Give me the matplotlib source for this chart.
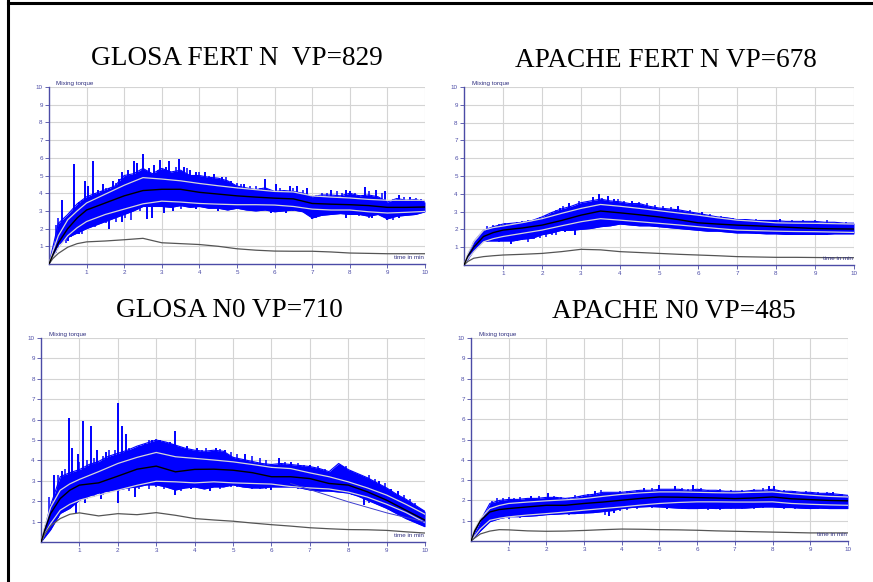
import numpy as np
import matplotlib
matplotlib.use("Agg")
import matplotlib.pyplot as plt
from matplotlib.lines import Line2D

# time grids (minutes)
T_ENV = np.arange(0, 10.01, 0.25)
T_LINE = [0, 0.1, 0.25, 0.5, 0.75, 1, 1.5, 2, 2.5, 3, 3.5, 4, 4.5, 5, 5.5,
          6, 6.5, 7, 7.5, 8, 8.5, 9, 9.5, 10]

TITLES = ["GLOSA FERT N  VP=829", "APACHE FERT N VP=678",
          "GLOSA N0 VP=710", "APACHE N0 VP=485"]

# --- GLOSA FERT N ---
gf_upper = [0, 2.3, 2.8, 3.4, 3.8, 4.0, 4.2, 4.4, 5.0, 5.1, 5.4, 5.1, 5.4, 5.2, 5.3, 5.0,
            5.0, 4.9, 4.85, 4.7, 4.4, 4.3, 4.2, 4.3, 4.1, 4.15, 4.1, 4.0, 3.8, 3.9, 3.9,
            3.85, 4.0, 3.85, 3.9, 3.8, 3.5, 3.7, 3.6, 3.65, 3.5]
gf_lower = [0, 1.1, 1.5, 1.75, 2.0, 2.2, 2.4, 2.6, 2.8, 3.0, 3.25, 3.25, 3.25, 3.2, 3.3, 3.2,
            3.25, 3.15, 3.15, 3.05, 3.15, 3.05, 3.0, 3.05, 2.95, 3.0, 3.05, 2.95, 2.6, 2.75,
            2.8, 2.85, 2.8, 2.8, 2.7, 2.8, 2.55, 2.7, 2.75, 2.8, 2.95]
gf_center = [0, 0.5, 1.2, 2.0, 2.6, 3.05, 3.45, 3.85, 4.15, 4.22, 4.22, 4.05, 3.95, 3.85,
             3.78, 3.72, 3.68, 3.42, 3.38, 3.35, 3.3, 3.2, 3.2, 3.22]
gf_band_hi = [0, 0.7, 1.6, 2.5, 3.0, 3.45, 3.95, 4.45, 4.88, 4.8, 4.7, 4.55, 4.42, 4.3,
              4.2, 4.1, 4.07, 3.85, 3.78, 3.73, 3.65, 3.6, 3.6, 3.6]
gf_band_lo = [0, 0.35, 0.9, 1.6, 2.05, 2.4, 2.8, 3.1, 3.4, 3.55, 3.5, 3.42, 3.38, 3.35,
              3.35, 3.33, 3.25, 3.1, 3.05, 3.05, 2.95, 2.88, 2.92, 2.97]
gf_base = [0, 0.3, 0.6, 0.95, 1.15, 1.25, 1.3, 1.37, 1.45, 1.2, 1.15, 1.1, 1.0, 0.86,
           0.78, 0.73, 0.72, 0.72, 0.68, 0.62, 0.6, 0.58, 0.58, 0.58]
gf_strokes = [(0.35, 1.5, 3.6), (0.5, 1.3, 2.7), (0.67, 2.0, 5.65), (0.8, 1.7, 3.5),
              (0.95, 2.2, 4.7), (1.05, 2.4, 4.4), (1.17, 2.5, 5.8), (1.3, 2.6, 4.2),
              (1.45, 2.6, 4.5), (1.6, 2.0, 4.3), (1.7, 3.0, 4.7), (1.85, 3.0, 4.8),
              (1.95, 2.4, 5.2), (2.1, 3.0, 5.3), (2.25, 3.2, 5.8), (2.35, 3.2, 5.7),
              (2.5, 3.4, 6.2), (2.6, 2.55, 4.4), (2.65, 3.4, 5.4), (2.75, 2.6, 4.6),
              (2.8, 3.4, 5.6), (2.95, 3.4, 5.9), (3.05, 2.9, 4.5), (3.1, 3.6, 5.5),
              (3.2, 3.6, 5.8), (3.3, 3.0, 4.8), (3.45, 3.6, 5.95), (3.6, 3.5, 5.5),
              (3.75, 3.5, 5.3), (3.9, 3.1, 5.2), (4.15, 3.4, 5.2), (4.4, 3.3, 5.1),
              (4.5, 3.0, 4.6), (4.6, 3.4, 4.9), (4.85, 3.3, 4.7), (5.2, 3.3, 4.5),
              (5.75, 3.5, 4.8), (5.9, 2.9, 4.0), (6.05, 3.4, 4.5), (6.3, 2.9, 4.0),
              (6.4, 3.4, 4.4), (6.6, 3.4, 4.4), (6.85, 3.3, 4.3), (7.0, 2.55, 3.6),
              (7.5, 3.2, 4.2), (7.9, 2.6, 4.2), (8.0, 3.2, 4.1), (8.4, 3.0, 4.35),
              (8.6, 2.6, 3.6), (8.7, 3.0, 4.2), (8.95, 3.0, 4.1), (9.0, 2.5, 3.4),
              (9.3, 2.6, 3.9), (9.6, 2.9, 3.8), (9.9, 2.9, 3.7)]
gf_fine = [(0.2, 0.6, 2.2), (0.25, 0.9, 2.6), (0.45, 1.2, 2.6), (0.58, 1.5, 2.6),
           (0.75, 1.7, 3.3), (0.88, 1.7, 3.6), (1.12, 2.1, 3.8), (1.22, 2.1, 4.0),
           (1.38, 2.3, 4.1), (1.52, 2.3, 4.3), (1.78, 2.4, 4.6), (2.03, 2.6, 4.9),
           (2.18, 2.5, 5.0), (2.42, 3.0, 5.0), (2.9, 3.2, 5.3), (3.38, 3.3, 5.5),
           (3.52, 3.1, 5.0), (3.68, 3.2, 5.4), (4.0, 3.3, 5.2), (4.25, 3.2, 5.0),
           (4.7, 3.1, 4.9), (5.0, 3.1, 4.6), (5.1, 3.2, 4.5), (5.35, 3.1, 4.4),
           (5.5, 3.2, 4.4), (5.6, 3.0, 4.3), (6.15, 3.0, 4.3), (6.5, 3.0, 4.3),
           (6.75, 3.0, 4.2), (7.1, 2.6, 3.9), (7.25, 2.7, 4.0), (7.4, 2.8, 4.0),
           (7.65, 2.8, 4.1), (7.8, 2.8, 4.0), (8.15, 2.8, 4.0), (8.25, 2.7, 3.9),
           (8.5, 2.6, 4.1), (8.85, 2.7, 4.0), (9.15, 2.5, 3.7), (9.45, 2.7, 3.8),
           (9.75, 2.8, 3.75)]

# --- APACHE FERT N ---
af_upper = [0, 1.3, 1.95, 2.15, 2.3, 2.35, 2.4, 2.5, 2.7, 2.95, 3.15, 3.3, 3.5, 3.6, 3.7,
            3.6, 3.55, 3.45, 3.45, 3.3, 3.2, 3.15, 3.1, 3.0, 2.9, 2.8, 2.7, 2.65, 2.55,
            2.55, 2.5, 2.5, 2.5, 2.45, 2.45, 2.45, 2.45, 2.4, 2.4, 2.35, 2.35]
af_lower = [0, 0.8, 1.35, 1.35, 1.35, 1.35, 1.45, 1.5, 1.7, 1.8, 1.95, 1.95, 2.0, 2.05,
            2.15, 2.2, 2.3, 2.25, 2.2, 2.2, 2.15, 2.1, 2.05, 2.0, 1.95, 1.9, 1.9, 1.85,
            1.8, 1.8, 1.78, 1.75, 1.75, 1.72, 1.72, 1.72, 1.72, 1.72, 1.75, 1.75, 1.75]
af_center = [0, 0.5, 1.0, 1.6, 1.82, 1.96, 2.08, 2.24, 2.5, 2.8, 3.03, 2.93, 2.82, 2.7,
             2.55, 2.37, 2.3, 2.24, 2.2, 2.15, 2.1, 2.05, 2.03, 2.02]
af_band_hi = [0, 0.65, 1.3, 1.96, 2.1, 2.19, 2.38, 2.6, 2.9, 3.18, 3.4, 3.3, 3.18, 3.05,
              2.92, 2.8, 2.65, 2.52, 2.45, 2.37, 2.35, 2.34, 2.32, 2.3]
af_band_lo = [0, 0.35, 0.75, 1.3, 1.48, 1.6, 1.78, 1.96, 2.2, 2.43, 2.6, 2.52, 2.43, 2.34,
              2.25, 2.15, 2.05, 1.96, 1.93, 1.9, 1.88, 1.87, 1.85, 1.83]
af_base = [0, 0.2, 0.38, 0.47, 0.52, 0.56, 0.6, 0.65, 0.75, 0.88, 0.85, 0.75, 0.7, 0.65,
           0.6, 0.56, 0.52, 0.47, 0.45, 0.43, 0.43, 0.42, 0.41, 0.41]
af_strokes = [(1.2, 1.2, 2.1), (2.45, 1.9, 3.2), (2.6, 1.85, 3.0), (2.7, 2.2, 3.5),
              (2.85, 1.7, 3.0), (3.2, 2.0, 3.4), (3.3, 2.4, 3.8), (3.45, 2.4, 4.0),
              (3.7, 2.5, 3.9), (3.85, 2.4, 3.7), (4.3, 2.5, 3.6), (5.5, 2.3, 3.3),
              (6.1, 2.1, 3.0), (8.1, 1.9, 2.6)]
af_fine = [(0.6, 1.3, 2.2), (0.75, 1.35, 2.25), (0.9, 1.3, 2.3), (1.05, 1.4, 2.35),
           (1.35, 1.35, 2.4), (1.5, 1.4, 2.45), (1.65, 1.3, 2.5), (1.8, 1.45, 2.5),
           (1.95, 1.5, 2.7), (2.1, 1.6, 2.8), (2.25, 1.7, 3.0), (2.35, 1.7, 3.1),
           (2.55, 1.9, 3.3), (2.95, 2.0, 3.6), (3.05, 2.1, 3.5), (3.55, 2.2, 3.75),
           (3.95, 2.3, 3.7), (4.1, 2.3, 3.6), (4.5, 2.2, 3.55), (4.7, 2.2, 3.5),
           (4.9, 2.15, 3.35), (5.1, 2.2, 3.3), (5.3, 2.1, 3.25), (5.8, 2.0, 3.1),
           (6.3, 1.95, 2.85), (6.6, 1.9, 2.75), (6.9, 1.85, 2.65), (7.2, 1.8, 2.6),
           (7.5, 1.75, 2.6), (7.8, 1.75, 2.55), (8.4, 1.75, 2.55), (8.7, 1.7, 2.5),
           (9.0, 1.7, 2.55), (9.3, 1.7, 2.5), (9.8, 1.75, 2.4)]

# --- GLOSA N0 ---
gn_upper = [0, 1.8, 3.2, 3.4, 3.55, 3.8, 3.95, 4.2, 4.35, 4.5, 4.7, 4.85, 5.0, 4.9, 4.75,
            4.6, 4.5, 4.45, 4.5, 4.45, 4.15, 4.05, 3.95, 3.85, 3.8, 3.85, 3.8, 3.75, 3.7,
            3.6, 3.45, 3.85, 3.55, 3.35, 3.15, 2.9, 2.65, 2.35, 2.1, 1.8, 1.5]
gn_lower = [0, 0.6, 1.4, 1.65, 2.05, 2.25, 2.4, 2.5, 2.55, 2.65, 2.7, 2.8, 2.8, 2.7, 2.55,
            2.65, 2.7, 2.6, 2.7, 2.7, 2.8, 2.7, 2.65, 2.65, 2.7, 2.7, 2.7, 2.65, 2.55, 2.5,
            2.5, 2.45, 2.4, 2.25, 2.05, 1.85, 1.65, 1.4, 1.15, 0.95, 0.75]
gn_center = [0, 0.6, 1.4, 2.13, 2.54, 2.79, 2.9, 3.23, 3.57, 3.72, 3.44, 3.56, 3.57, 3.52,
             3.4, 3.2, 3.2, 3.11, 2.87, 2.79, 2.46, 2.05, 1.56, 1.07]
gn_band_hi = [0, 0.8, 1.7, 2.54, 2.85, 3.07, 3.45, 3.85, 4.15, 4.39, 4.18, 4.1, 4.02, 3.93,
              3.8, 3.66, 3.6, 3.39, 3.2, 2.95, 2.65, 2.3, 1.85, 1.36]
gn_band_lo = [0, 0.4, 0.9, 1.56, 1.85, 2.05, 2.3, 2.54, 2.78, 2.98, 2.95, 2.9, 2.95, 2.9,
              2.87, 2.84, 2.72, 2.65, 2.6, 2.45, 2.2, 1.85, 1.45, 0.95]
gn_base = [0, 0.4, 0.8, 1.15, 1.36, 1.43, 1.28, 1.39, 1.34, 1.44, 1.31, 1.15, 1.08, 1.02,
           0.93, 0.85, 0.78, 0.7, 0.65, 0.61, 0.6, 0.57, 0.5, 0.44]
gn_trend_t = [6.5, 7, 8, 9, 10]
gn_trend = [2.87, 2.57, 1.97, 1.43, 0.98]
gn_strokes = [(0.35, 1.2, 3.3), (0.55, 1.6, 3.5), (0.72, 2.0, 6.1), (0.8, 1.8, 4.6),
              (0.9, 1.4, 3.0), (0.95, 2.2, 4.3), (1.1, 2.3, 5.95), (1.15, 1.9, 3.0),
              (1.3, 2.4, 5.7), (1.45, 2.6, 4.5), (1.55, 2.1, 3.2), (1.7, 2.6, 4.4),
              (1.85, 2.6, 4.2), (2.0, 1.9, 6.8), (2.1, 2.7, 5.7), (2.2, 2.7, 5.3),
              (2.45, 2.2, 4.6), (2.7, 2.8, 4.8), (2.9, 2.8, 5.0), (3.1, 2.8, 5.0),
              (3.35, 2.7, 4.9), (3.5, 2.3, 5.45), (3.8, 2.7, 4.7), (3.9, 2.6, 3.8),
              (4.05, 2.8, 4.6), (4.4, 2.5, 3.6), (4.55, 2.8, 4.6), (4.8, 2.8, 4.5),
              (5.3, 2.8, 4.3), (6.0, 2.55, 3.6), (6.2, 2.8, 4.1), (6.5, 2.8, 3.9),
              (7.0, 2.7, 3.8), (7.6, 2.5, 3.4), (7.75, 2.6, 3.8), (7.85, 2.6, 3.75),
              (8.3, 2.2, 3.3), (8.4, 1.8, 2.9), (8.8, 1.9, 3.0), (9.1, 1.5, 2.6),
              (9.3, 1.5, 2.5)]
gn_fine = [(0.2, 0.5, 2.2), (0.45, 1.2, 3.3), (0.62, 1.5, 3.6), (1.0, 2.0, 3.9),
           (1.2, 2.1, 4.0), (1.38, 2.2, 4.1), (1.62, 2.3, 4.2), (1.78, 2.4, 4.5),
           (1.92, 2.5, 4.5), (2.3, 2.5, 4.6), (2.55, 2.6, 4.7), (2.8, 2.6, 5.0),
           (3.0, 2.7, 5.05), (3.2, 2.6, 4.9), (3.4, 2.6, 4.8), (3.65, 2.5, 4.6),
           (4.2, 2.6, 4.5), (4.3, 2.7, 4.6), (4.65, 2.6, 4.55), (4.95, 2.7, 4.4),
           (5.1, 2.7, 4.3), (5.5, 2.6, 4.2), (5.7, 2.6, 4.1), (5.85, 2.6, 4.0),
           (6.35, 2.7, 3.9), (6.7, 2.6, 3.85), (6.85, 2.65, 3.8), (7.2, 2.6, 3.75),
           (7.4, 2.55, 3.6), (7.95, 2.5, 3.75), (8.1, 2.3, 3.5), (8.55, 1.9, 3.3),
           (8.7, 2.0, 3.1), (8.95, 1.8, 2.9), (9.45, 1.4, 2.3), (9.6, 1.3, 2.1),
           (9.75, 1.1, 1.9), (9.9, 0.9, 1.6)]

# --- APACHE N0 ---
an_upper = [0, 1.0, 1.85, 2.0, 2.05, 2.05, 2.1, 2.1, 2.15, 2.15, 2.1, 2.15, 2.25, 2.3, 2.4,
            2.4, 2.4, 2.45, 2.5, 2.5, 2.55, 2.55, 2.55, 2.5, 2.55, 2.5, 2.5, 2.45, 2.45,
            2.45, 2.5, 2.5, 2.55, 2.45, 2.45, 2.4, 2.4, 2.35, 2.35, 2.3, 2.25]
an_lower = [0, 0.5, 0.95, 1.1, 1.2, 1.2, 1.22, 1.25, 1.3, 1.32, 1.35, 1.35, 1.38, 1.4,
            1.45, 1.5, 1.6, 1.65, 1.68, 1.7, 1.68, 1.65, 1.62, 1.6, 1.6, 1.62, 1.6, 1.62,
            1.62, 1.62, 1.65, 1.68, 1.68, 1.65, 1.65, 1.62, 1.6, 1.62, 1.6, 1.6, 1.6]
an_center = [0, 0.5, 1.0, 1.43, 1.55, 1.6, 1.68, 1.76, 1.76, 1.85, 1.92, 2.01, 2.1, 2.17,
             2.16, 2.14, 2.12, 2.09, 2.12, 2.17, 2.08, 2.04, 2.0, 1.98]
an_band_hi = [0, 0.6, 1.1, 1.6, 1.75, 1.85, 1.92, 1.98, 2.03, 2.09, 2.2, 2.3, 2.37, 2.42,
              2.42, 2.4, 2.38, 2.37, 2.4, 2.42, 2.33, 2.26, 2.2, 2.17]
an_band_lo = [0, 0.25, 0.6, 1.02, 1.12, 1.19, 1.28, 1.35, 1.43, 1.52, 1.6, 1.68, 1.77,
              1.85, 1.9, 1.93, 1.93, 1.92, 1.92, 1.93, 1.85, 1.81, 1.78, 1.76]
an_base = [0, 0.15, 0.35, 0.49, 0.56, 0.55, 0.5, 0.48, 0.49, 0.52, 0.56, 0.59, 0.58, 0.56,
           0.55, 0.53, 0.5, 0.48, 0.46, 0.44, 0.42, 0.4, 0.4, 0.4]
an_strokes = [(1.6, 1.4, 2.2), (2.05, 1.5, 2.35), (2.9, 1.45, 2.2), (3.3, 1.6, 2.45),
              (3.65, 1.25, 2.1), (3.8, 1.4, 2.2), (4.6, 1.8, 2.6), (5.0, 1.8, 2.75),
              (5.2, 1.6, 2.4), (5.4, 1.8, 2.7), (5.9, 1.8, 2.75), (7.9, 1.9, 2.7),
              (8.05, 1.9, 2.7), (9.6, 1.8, 2.4)]
an_fine = [(0.55, 1.0, 1.95), (0.7, 1.05, 2.1), (0.85, 1.15, 2.1), (1.0, 1.1, 2.15),
           (1.15, 1.2, 2.1), (1.3, 1.15, 2.15), (1.45, 1.25, 2.1), (1.8, 1.3, 2.2),
           (2.2, 1.3, 2.2), (2.4, 1.35, 2.15), (2.6, 1.3, 2.1), (2.75, 1.4, 2.25),
           (3.1, 1.4, 2.3), (3.45, 1.45, 2.5), (3.55, 1.3, 2.3), (3.95, 1.5, 2.45),
           (4.15, 1.55, 2.45), (4.4, 1.6, 2.5), (4.8, 1.65, 2.6), (5.6, 1.6, 2.6),
           (5.75, 1.6, 2.55), (6.1, 1.6, 2.6), (6.3, 1.55, 2.5), (6.6, 1.55, 2.55),
           (6.9, 1.6, 2.5), (7.2, 1.6, 2.5), (7.5, 1.6, 2.55), (7.75, 1.65, 2.6),
           (8.3, 1.6, 2.5), (8.6, 1.6, 2.45), (8.9, 1.6, 2.45), (9.2, 1.6, 2.4),
           (9.45, 1.6, 2.4), (9.85, 1.65, 2.3)]

AX_COLOR = "#4b4ba6"
BLUE = "#0000ff"

fig = plt.figure(figsize=(8.73, 5.82), dpi=100)

# left and top frame lines
fig.add_artist(Line2D([7.5 / 873, 7.5 / 873], [0, 1], color="black", lw=2.2))
fig.add_artist(Line2D([7.5 / 873, 1], [1 - 3 / 582, 1 - 3 / 582], color="black", lw=2.2))

panels = [
    ([0.0561, 0.5464, 0.4307, 0.3041], (0.2715, 0.8883),
     gf_upper, gf_lower, gf_center, gf_band_hi, gf_band_lo, gf_base, gf_strokes, gf_fine),
    ([0.5315, 0.5447, 0.4467, 0.3058], (0.7623, 0.8854),
     af_upper, af_lower, af_center, af_band_hi, af_band_lo, af_base, af_strokes, af_fine),
    ([0.0470, 0.0687, 0.4399, 0.3505], (0.2623, 0.4548),
     gn_upper, gn_lower, gn_center, gn_band_hi, gn_band_lo, gn_base, gn_strokes, gn_fine),
    ([0.5395, 0.0704, 0.4318, 0.3488], (0.7715, 0.4530),
     an_upper, an_lower, an_center, an_band_hi, an_band_lo, an_base, an_strokes, an_fine),
]

for i, (rect, tpos, up, lo, ctr, bhi, blo, base, strokes, fine) in enumerate(panels):
    ax = fig.add_axes(rect)
    ax.set_xlim(0, 10)
    ax.set_ylim(0, 10)

    # signal band and its larger excursions
    ax.fill_between(T_ENV, lo, up, color=BLUE, lw=0, zorder=2)
    ax.plot(T_ENV, up, color=BLUE, lw=0.8, zorder=2)
    ax.plot(T_ENV, lo, color=BLUE, lw=0.8, zorder=2)
    ax.vlines([s[0] for s in strokes], [s[1] for s in strokes], [s[2] for s in strokes],
              color=BLUE, lw=1.4, zorder=2)
    ax.vlines([s[0] for s in fine], [s[1] for s in fine], [s[2] for s in fine],
              color=BLUE, lw=1.1, zorder=2)

    # tolerance band, mean curve and lower reference curve
    ax.plot(T_LINE, bhi, color="#d6d6d6", lw=0.9, zorder=3)
    ax.plot(T_LINE, blo, color="#d6d6d6", lw=0.9, zorder=3)
    ax.plot(T_LINE, ctr, color="black", lw=1.0, solid_joinstyle="round", zorder=4)
    ax.plot(T_LINE, base, color="#555555", lw=0.9, zorder=3)
    if i == 2:
        ax.plot(gn_trend_t, gn_trend, color="#3c3cd0", lw=0.7, zorder=3)

    ax.set_xticks(range(1, 11))
    ax.set_yticks(range(1, 11))
    ax.grid(True, color="#d4d4d4", lw=0.8, zorder=0)
    ax.set_axisbelow(True)
    for side in ("top", "right"):
        ax.spines[side].set_visible(False)
    for side in ("left", "bottom"):
        ax.spines[side].set_color(AX_COLOR)
        ax.spines[side].set_linewidth(1.0)
    ax.tick_params(colors=AX_COLOR, labelsize=4.5, length=3, width=0.6, pad=1.5)
    for lab in ax.get_xticklabels() + ax.get_yticklabels():
        lab.set_family("Liberation Sans")

    ax.text(0.02, 1.003, "Mixing torque", transform=ax.transAxes, fontsize=4.5,
            color="#303080", family="Liberation Sans", va="bottom", ha="left")
    ax.text(9.98, 0.22, "time in min", fontsize=4.5, color="#303080",
            family="Liberation Sans", va="bottom", ha="right", zorder=5)

    fig.text(tpos[0], tpos[1], TITLES[i], ha="center", va="baseline",
             fontsize=19.6, family="Liberation Serif", color="black")

fig.savefig("out.png", dpi=100)
